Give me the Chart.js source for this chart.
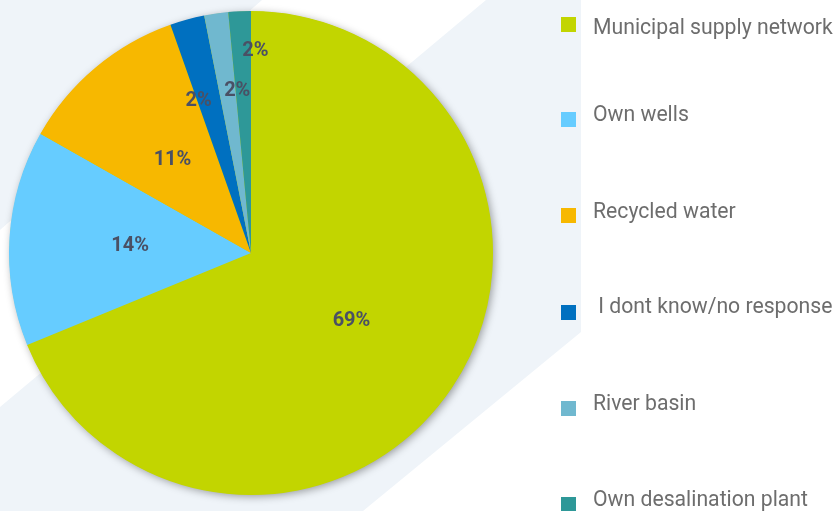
<!DOCTYPE html>
<html>
<head>
<meta charset="utf-8">
<title>Water supply sources</title>
<script src="https://cdn.jsdelivr.net/npm/chart.js@4.4.1/dist/chart.umd.min.js"></script>
<style>
  html, body { margin: 0; padding: 0; background: #ffffff; }
  #wrap { position: relative; width: 836px; height: 511px; overflow: hidden; }
  #pie { position: absolute; left: 0; top: 0; }
  #legend { position: absolute; left: 0; top: 0; width: 836px; height: 511px; pointer-events: none; }
  .item-box { position: absolute; width: 15px; height: 15px; }
  .item-text {
    position: absolute; white-space: pre;
    font-family: Roboto, "Noto Sans", sans-serif; font-size: 21.2px; line-height: 21px;
    color: #6d6d6d;
  }
</style>
</head>
<body>
<div id="wrap">
  <canvas id="pie" width="836" height="511"></canvas>
  <div id="legend"></div>
</div>
<script>
// Sources of water supply, share of respondents (%)
const categories = [
  'Municipal supply network',
  'Own wells',
  'Recycled water',
  ' I dont know/no response',
  'River basin',
  'Own desalination plant'
];
const shares = [68.8, 14.4, 11.4, 2.3, 1.6, 1.5];
const sliceColors = ['#c2d500', '#66ccff', '#f7b800', '#0070c0', '#70b8cf', '#2e9898'];

// Label placement per slice: fraction of the radius and angular nudge (degrees)
const labelRadius = [0.5, 0.5, 0.505, 0.668, 0.674, 0.841];
const labelNudge = [0, 0, 0, -3.6, 3.45, 3.95];

// Legend rows: text baseline and marker top (px)
const legendBaselines = [33, 120, 217, 312, 409, 505];
const legendMarkerTops = [17, 112, 208, 305, 401, 497];

// Light backdrop panels
const backdrop = {
  id: 'backdrop',
  beforeDraw(chart) {
    const ctx = chart.ctx;
    ctx.save();
    ctx.fillStyle = '#eff4f9';
    ctx.beginPath();
    ctx.moveTo(0, 0); ctx.lineTo(262, 0); ctx.lineTo(0, 230); ctx.closePath();
    ctx.fill();
    ctx.beginPath();
    ctx.moveTo(486, 0); ctx.lineTo(581, 0); ctx.lineTo(581, 332);
    ctx.lineTo(363, 511); ctx.lineTo(0, 511); ctx.lineTo(0, 407); ctx.closePath();
    ctx.fill();
    ctx.restore();
  }
};

// Soft drop shadow under the whole pie
const pieShadow = {
  id: 'pieShadow',
  beforeDatasetsDraw(chart) {
    const arc = chart.getDatasetMeta(0).data[0];
    if (!arc) return;
    const { x, y, outerRadius } = arc.getProps(['x', 'y', 'outerRadius'], true);
    const ctx = chart.ctx;
    ctx.save();
    ctx.shadowColor = 'rgba(0, 0, 0, 0.38)';
    ctx.shadowBlur = 8;
    ctx.shadowOffsetX = 2;
    ctx.shadowOffsetY = 2;
    ctx.fillStyle = sliceColors[0];
    ctx.beginPath();
    ctx.arc(x, y, outerRadius - 0.5, 0, Math.PI * 2);
    ctx.fill();
    ctx.restore();
  }
};

// Percentage labels inside the slices
const sliceLabels = {
  id: 'sliceLabels',
  afterDatasetsDraw(chart) {
    const ctx = chart.ctx;
    const meta = chart.getDatasetMeta(0);
    ctx.save();
    ctx.font = 'bold 20px Roboto, "Noto Sans", sans-serif';
    ctx.fillStyle = '#4a5064';
    ctx.textAlign = 'center';
    ctx.textBaseline = 'middle';
    meta.data.forEach((el, i) => {
      const p = el.getProps(['x', 'y', 'startAngle', 'endAngle', 'outerRadius'], true);
      const a = (p.startAngle + p.endAngle) / 2 + labelNudge[i] * Math.PI / 180;
      const r = p.outerRadius * labelRadius[i];
      const text = Math.round(shares[i]) + '%';
      ctx.fillText(text, p.x + Math.cos(a) * r, p.y + Math.sin(a) * r + 1);
    });
    ctx.restore();
  }
};

const chart = new Chart(document.getElementById('pie'), {
  type: 'pie',
  data: {
    labels: categories,
    datasets: [{
      data: shares,
      backgroundColor: sliceColors,
      borderWidth: 0
    }]
  },
  options: {
    responsive: false,
    animation: false,
    devicePixelRatio: 1,
    layout: { padding: { left: 0, right: 334, top: 11, bottom: 16 } },
    plugins: {
      legend: { display: false },
      tooltip: { enabled: false }
    }
  },
  plugins: [backdrop, pieShadow, sliceLabels]
});

// Legend built from the chart's own labels and colours
const legend = document.getElementById('legend');
chart.data.labels.forEach((label, i) => {
  const box = document.createElement('div');
  box.className = 'item-box';
  box.style.left = '561px';
  box.style.top = legendMarkerTops[i] + 'px';
  box.style.background = chart.data.datasets[0].backgroundColor[i];
  legend.appendChild(box);

  const txt = document.createElement('div');
  txt.className = 'item-text';
  txt.style.left = '593px';
  txt.style.top = (legendBaselines[i] - 17) + 'px';
  txt.textContent = label;
  legend.appendChild(txt);
});
</script>
</body>
</html>
